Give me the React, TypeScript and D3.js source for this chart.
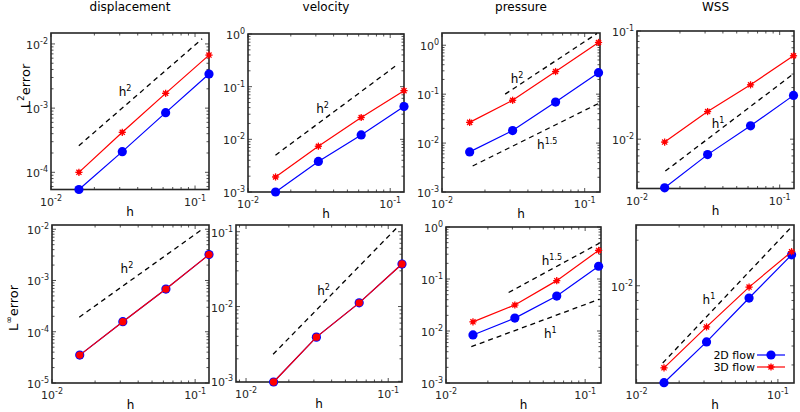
import React from 'react';
import * as d3 from 'd3';

// grid spacing h
const H = [1 / 64, 1 / 32, 1 / 16, 1 / 8];
const titles = ['displacement', 'velocity', 'pressure', 'WSS'];

// L2 errors
const dispL2_2D = [5.4e-5, 2.1e-4, 8.5e-4, 3.4e-3];
const dispL2_3D = [1.0e-4, 4.2e-4, 1.7e-3, 6.7e-3];
const velL2_2D = [1.0e-3, 3.8e-3, 0.0121, 0.042];
const velL2_3D = [1.93e-3, 7.4e-3, 0.026, 0.084];
const presL2_2D = [6.6e-3, 0.018, 0.069, 0.275];
const presL2_3D = [0.0265, 0.075, 0.29, 1.14];
const wssL2_2D = [3.55e-3, 7.2e-3, 0.0133, 0.0254];
const wssL2_3D = [9.4e-3, 0.018, 0.0318, 0.059];

// Linf errors
const dispLinf_2D = [3.5e-5, 1.57e-4, 6.8e-4, 3.2e-3];
const dispLinf_3D = [3.5e-5, 1.57e-4, 6.8e-4, 3.2e-3];
const velLinf_2D = [9.8e-4, 3.9e-3, 0.0112, 0.037];
const velLinf_3D = [9.8e-4, 3.9e-3, 0.0112, 0.037];
const presLinf_2D = [8.4e-3, 0.0177, 0.047, 0.176];
const presLinf_3D = [0.015, 0.0316, 0.093, 0.355];
const wssLinf_2D = [2.29e-3, 4.26e-3, 8.3e-3, 0.016];
const wssLinf_3D = [2.87e-3, 5.35e-3, 9.8e-3, 0.0168];

const legendLabels = ['2D flow', '3D flow'];

// reference slope lines: [h start, h end], [value start, value end], order label, label position (h, value)
type Ref = { h: number[]; v: number[]; order: string; at: number[] };
const refs: Ref[][] = [
  [{ h: [0.0156, 0.112], v: [2.6e-4, 0.012], order: '2', at: [0.0327, 1.85e-3] }],
  [{ h: [0.0156, 0.114], v: [5e-3, 0.27], order: '2', at: [0.0334, 0.04] }],
  [
    { h: [0.0277, 0.122], v: [0.1, 1.74], order: '2', at: [0.0336, 0.214] },
    { h: [0.0164, 0.127], v: [3.4e-3, 0.066], order: '1.5', at: [0.0546, 0.0098] },
  ],
  [{ h: [0.0158, 0.126], v: [5.07e-3, 0.0405], order: '1', at: [0.037, 0.01426] }],
  [{ h: [0.0155, 0.111], v: [1.92e-4, 0.0098], order: '2', at: [0.0334, 1.74e-3] }],
  [{ h: [0.0155, 0.117], v: [2.3e-3, 0.117], order: '2', at: [0.0351, 0.0168] }],
  [
    { h: [0.0282, 0.127], v: [0.055, 0.49], order: '1.5', at: [0.0577, 0.229] },
    { h: [0.0152, 0.127], v: [5e-3, 0.041], order: '1', at: [0.0562, 9e-3] },
  ],
  [{ h: [0.0153, 0.125], v: [3.09e-3, 0.0245], order: '1', at: [0.0325, 8.2e-3] }],
];

const series2D = [dispL2_2D, velL2_2D, presL2_2D, wssL2_2D, dispLinf_2D, velLinf_2D, presLinf_2D, wssLinf_2D];
const series3D = [dispL2_3D, velL2_3D, presL2_3D, wssL2_3D, dispLinf_3D, velLinf_3D, presLinf_3D, wssLinf_3D];

const xDomains = [
  [0.01, 0.125], [0.01, 0.125], [0.01, 0.128], [0.01, 0.126],
  [0.01, 0.125], [0.0085, 0.125], [0.01, 0.13], [0.0099, 0.13],
];
const yDomains = [
  [5.4e-5, 0.0148], [1e-3, 1], [1e-3, 1.78], [3.5e-3, 0.1],
  [1e-5, 0.0121], [9.8e-4, 0.123], [1e-3, 1], [2.28e-3, 0.0252],
];

// layout (pixels)
const boxes = [
  { x0: 51, x1: 209, y0: 33, y1: 189.5 },
  { x0: 248, x1: 404, y0: 34, y1: 192 },
  { x0: 442, x1: 600, y0: 33, y1: 192 },
  { x0: 637, x1: 794, y0: 31, y1: 188.5 },
  { x0: 52, x1: 209, y0: 225, y1: 383 },
  { x0: 236, x1: 402, y0: 225, y1: 382 },
  { x0: 446, x1: 601, y0: 227, y1: 383 },
  { x0: 636, x1: 794, y0: 225, y1: 383 },
];

const BLUE = '#0000ff';
const RED = '#ff0000';
const AX = '#262626';
const FONT = 'DejaVu Sans, sans-serif';

function logTicks(domain: number[]) {
  const [a, b] = domain;
  const major: number[] = [];
  const minor: number[] = [];
  for (let e = Math.floor(Math.log10(a)) - 1; e <= Math.ceil(Math.log10(b)) + 1; e++) {
    const p = Math.pow(10, e);
    if (p >= a * 0.999 && p <= b * 1.001) major.push(p);
    for (let k = 2; k <= 9; k++) {
      const m = k * p;
      if (m > a && m < b) minor.push(m);
    }
  }
  return { major, minor };
}

function Star({ x, y }: { x: number; y: number }) {
  const r = 3.6;
  const d = r * 0.707;
  return (
    <g stroke={RED} strokeWidth={1.3}>
      <circle cx={x} cy={y} r={2.2} fill={RED} stroke="none" />
      <line x1={x - r} y1={y} x2={x + r} y2={y} />
      <line x1={x} y1={y - r} x2={x} y2={y + r} />
      <line x1={x - d} y1={y - d} x2={x + d} y2={y + d} />
      <line x1={x - d} y1={y + d} x2={x + d} y2={y - d} />
    </g>
  );
}

function Panel({ i }: { i: number }) {
  const b = boxes[i];
  const x = d3.scaleLog().domain(xDomains[i]).range([b.x0, b.x1]);
  const y = d3.scaleLog().domain(yDomains[i]).range([b.y1, b.y0]);
  const xt = logTicks(xDomains[i]);
  const yt = logTicks(yDomains[i]);
  const line = d3.line<number>().x((_, k) => x(H[k])).y((v) => y(v));
  const roundRed = i === 4 || i === 5;
  const majL = 4;
  const minL = 2.5;
  return (
    <g>
      <g stroke={AX} strokeWidth={0.8}>
        {xt.major.map((t) => (
          <g key={'xm' + t}>
            <line x1={x(t)} x2={x(t)} y1={b.y1} y2={b.y1 - majL} />
            <line x1={x(t)} x2={x(t)} y1={b.y0} y2={b.y0 + majL} />
          </g>
        ))}
        {xt.minor.map((t) => (
          <g key={'xn' + t}>
            <line x1={x(t)} x2={x(t)} y1={b.y1} y2={b.y1 - minL} />
            <line x1={x(t)} x2={x(t)} y1={b.y0} y2={b.y0 + minL} />
          </g>
        ))}
        {yt.major.map((t) => (
          <g key={'ym' + t}>
            <line x1={b.x0} x2={b.x0 + majL} y1={y(t)} y2={y(t)} />
            <line x1={b.x1} x2={b.x1 - majL} y1={y(t)} y2={y(t)} />
          </g>
        ))}
        {yt.minor.map((t) => (
          <g key={'yn' + t}>
            <line x1={b.x0} x2={b.x0 + minL} y1={y(t)} y2={y(t)} />
            <line x1={b.x1} x2={b.x1 - minL} y1={y(t)} y2={y(t)} />
          </g>
        ))}
      </g>
      <rect x={b.x0} y={b.y0} width={b.x1 - b.x0} height={b.y1 - b.y0} fill="none" stroke={AX} strokeWidth={1.6} />
      <g fill={AX} fontFamily={FONT} fontSize={11}>
        {xt.major.map((t) => (
          <text key={'xl' + t} x={x(t)} y={b.y1 + 16} textAnchor="middle">
            10<tspan fontSize={8} dy={-5}>{String(Math.round(Math.log10(t)))}</tspan>
          </text>
        ))}
        {yt.major.map((t) => (
          <text key={'yl' + t} x={b.x0 - 3} y={y(t) + 5} textAnchor="end">
            10<tspan fontSize={8} dy={-5}>{String(Math.round(Math.log10(t)))}</tspan>
          </text>
        ))}
      </g>
      <text x={(b.x0 + b.x1) / 2} y={b.y1 + 26} textAnchor="middle" fontFamily={FONT} fontSize={12} fill="#000">
        h
      </text>
      {refs[i].map((r, k) => (
        <g key={'r' + k}>
          <line
            x1={x(r.h[0])}
            y1={y(r.v[0])}
            x2={x(r.h[1])}
            y2={y(r.v[1])}
            stroke="#000"
            strokeWidth={1.3}
            strokeDasharray="5,4"
          />
          <text x={x(r.at[0])} y={y(r.at[1]) + 5} textAnchor="middle" fontFamily={FONT} fontSize={12} fill="#000">
            h<tspan fontSize={8} dy={-5}>{r.order}</tspan>
          </text>
        </g>
      ))}
      <path d={line(series2D[i]) || ''} fill="none" stroke={BLUE} strokeWidth={1.2} />
      {series2D[i].map((v, k) => (
        <circle key={'b' + k} cx={x(H[k])} cy={y(v)} r={4.6} fill={BLUE} />
      ))}
      <path d={line(series3D[i]) || ''} fill="none" stroke={RED} strokeWidth={1.2} />
      {series3D[i].map((v, k) =>
        roundRed ? (
          <circle key={'r' + k} cx={x(H[k])} cy={y(v)} r={3.7} fill={RED} />
        ) : (
          <Star key={'r' + k} x={x(H[k])} y={y(v)} />
        )
      )}
    </g>
  );
}

export default function App() {
  return (
    <svg width={800} height={412} style={{ position: 'absolute', left: 0, top: 0, background: '#fff' }}>
      <rect x={0} y={0} width={800} height={412} fill="#fff" />
      {titles.map((t, i) => (
        <text
          key={t}
          x={(boxes[i].x0 + boxes[i].x1) / 2}
          y={11}
          textAnchor="middle"
          fontFamily={FONT}
          fontSize={12}
          fill="#000"
        >
          {t}
        </text>
      ))}
      <text transform="translate(30,86) rotate(-90)" textAnchor="middle" fontFamily={FONT} fontSize={13} fill="#000">
        L<tspan fontSize={9} dy={-6}>2</tspan>
        <tspan dy={6}>error</tspan>
      </text>
      <text transform="translate(18,308) rotate(-90)" textAnchor="middle" fontFamily={FONT} fontSize={13} fill="#000">
        L<tspan fontSize={9} dy={-6}>∞</tspan>
        <tspan dy={6}>error</tspan>
      </text>
      {boxes.map((_, i) => (
        <Panel key={i} i={i} />
      ))}
      <g fontFamily={FONT} fontSize={11} fill="#000">
        <text x={755} y={359} textAnchor="end">{legendLabels[0]}</text>
        <line x1={757} x2={785} y1={355} y2={355} stroke={BLUE} strokeWidth={1.2} />
        <circle cx={771} cy={355} r={4.6} fill={BLUE} />
        <text x={755} y={371} textAnchor="end">{legendLabels[1]}</text>
        <line x1={757} x2={785} y1={367} y2={367} stroke={RED} strokeWidth={1.2} />
        <Star x={771} y={367} />
      </g>
    </svg>
  );
}
